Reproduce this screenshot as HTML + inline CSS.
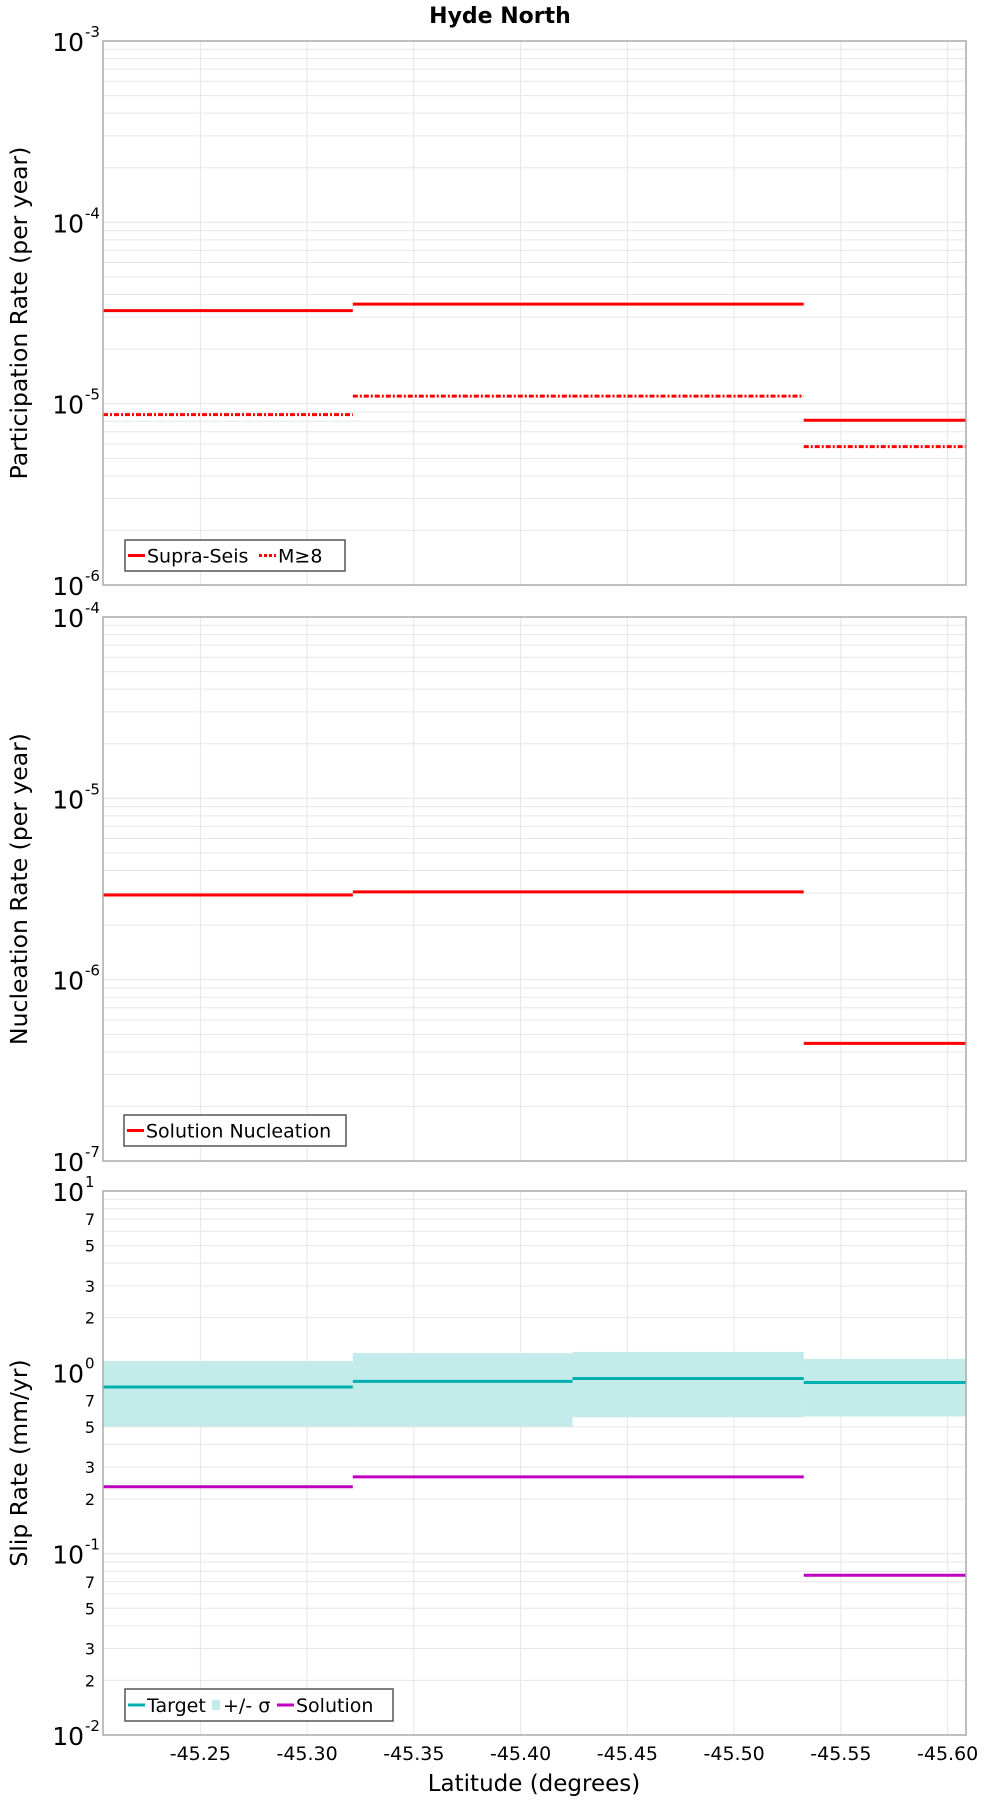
<!DOCTYPE html>
<html><head><meta charset="utf-8"><style>
html,body{margin:0;padding:0;background:#fff;}
svg{display:block;font-family:"DejaVu Sans","Liberation Sans",sans-serif;}
</style></head><body>
<svg id="c" width="1000" height="1800" viewBox="0 0 1000 1800" xmlns="http://www.w3.org/2000/svg">
<text x="500" y="23" text-anchor="middle" font-size="22" font-weight="bold">Hyde North</text>
</svg>
<script>
// Data
const segEdges = [-45.2044, -45.3214, -45.4243, -45.5326, -45.6086];
const xTicks = [-45.25, -45.30, -45.35, -45.40, -45.45, -45.50, -45.55, -45.60];
const xTickLabels = ["-45.25","-45.30","-45.35","-45.40","-45.45","-45.50","-45.55","-45.60"];
const supraSeis = [3.26e-5, 3.54e-5, 3.54e-5, 8.1e-6];
const m8 = [8.7e-6, 1.1e-5, 1.1e-5, 5.8e-6];
const nucleation = [2.93e-6, 3.05e-6, 3.05e-6, 4.45e-7];
const slipTarget = [0.83, 0.892, 0.925, 0.879];
const slipUpper = [1.156, 1.276, 1.296, 1.186];
const slipLower = [0.502, 0.502, 0.565, 0.571];
const slipSolution = [0.234, 0.265, 0.265, 0.076];
const p1Decades = [-6, -5, -4, -3];
const p2Decades = [-7, -6, -5, -4];
const p3Decades = [-2, -1, 0, 1];
const p3MinorLabels = [2, 3, 5, 7];

const NS = "http://www.w3.org/2000/svg";
const svg = document.getElementById('c');
const L = 103, R = 966;
function xs(v){ return L + (v - segEdges[0]) / (segEdges[4] - segEdges[0]) * (R - L); }
function mk(tag, attrs, parent){
  const e = document.createElementNS(NS, tag);
  for (const k in attrs) e.setAttribute(k, attrs[k]);
  (parent || svg).appendChild(e);
  return e;
}
function panel(top, bottom, decades, title, name){
  const g = mk('g', {});
  
  
  const lo = decades[0], hi = decades[decades.length - 1];
  const ys = v => bottom - (Math.log10(v) - lo) / (hi - lo) * (bottom - top);
  for (let d = lo; d < hi; d++) {
    for (let m = 1; m < 10; m++) {
      const y = ys(m * Math.pow(10, d));
      const ln = mk('line', {x1: L, x2: R, y1: y, y2: y, stroke: '#e6e6e6', 'stroke-width': 1}, g);
      
      
    }
  }
  xTicks.forEach(t => {
    const x = xs(t);
    const ln = mk('line', {x1: x, x2: x, y1: top, y2: bottom, stroke: '#e6e6e6', 'stroke-width': 1}, g);
    
    
  });
  decades.forEach(d => {
    const y = ys(Math.pow(10, d));
    const t = mk('text', {x: 84, y: y + 10, 'text-anchor': 'end', 'font-size': 25}, g);
    t.textContent = '10';
    
    
    const e = mk('text', {x: 85, y: y - 4, 'font-size': 15}, g);
    e.textContent = String(d);
    
    
  });
  const yt = mk('text', {x: 0, y: 0, 'text-anchor': 'middle', 'font-size': 23.5, transform: `translate(27 ${(top+bottom)/2}) rotate(-90)`}, g);
  yt.textContent = title;
  
  
  return {g, ys, top, bottom};
}
function frame(p){
  const r = mk('rect', {x: L, y: p.top, width: R - L, height: p.bottom - p.top, fill: 'none', stroke: '#aaaaaa', 'stroke-width': 1.5}, p.g);
  
  
}
function steps(p, vals, color, dash, name){
  vals.forEach((v, i) => {
    const y = p.ys(v);
    const a = {x1: xs(segEdges[i]), x2: xs(segEdges[i+1]), y1: y, y2: y, stroke: color, 'stroke-width': 3};
    if (dash) a['stroke-dasharray'] = dash;
    const ln = mk('line', a, p.g);
    
    
  });
}
function legend(p, x, y, w, h, items){
  const g = mk('g', {}, p.g);
  
  
  mk('rect', {x, y, width: w, height: h, fill: '#fff', stroke: '#555', 'stroke-width': 1.5}, g);
  let cx = x + 3;
  items.forEach(it => {
    if (it.box) {
      mk('rect', {x: cx + 1, y: y + h/2 - 5, width: 8, height: 10, fill: it.color}, g);
      cx += 12;
    } else {
      const a = {x1: cx, x2: cx + 17, y1: y + h/2, y2: y + h/2, stroke: it.color, 'stroke-width': 3};
      if (it.dash) a['stroke-dasharray'] = it.dash;
      mk('line', a, g);
      cx += 19;
    }
    const t = mk('text', {x: cx, y: y + h/2 + 7, 'font-size': 19}, g);
    t.textContent = it.label;
    
    
    cx += it.w;
  });
}

// Panel 1
const p1 = panel(41, 585, p1Decades, 'Participation Rate (per year)', 'participation-panel');
steps(p1, supraSeis, '#ff0000', null, 'supra-seis');
steps(p1, m8, '#ff0000', '5 2 2 2', 'm8');
frame(p1);
legend(p1, 125, 540, 220, 31, [{label:'Supra-Seis', color:'#ff0000', w:112},{label:'M≥8', color:'#ff0000', dash:'3 2', w:42}]);

// Panel 2
const p2 = panel(617, 1161, p2Decades, 'Nucleation Rate (per year)', 'nucleation-panel');
steps(p2, nucleation, '#ff0000', null, 'nucleation');
frame(p2);
legend(p2, 124, 1115, 222, 31, [{label:'Solution Nucleation', color:'#ff0000', w:190}]);

// Panel 3
const p3 = panel(1191, 1735, p3Decades, 'Slip Rate (mm/yr)', 'slip-rate-panel');
for (let d = p3Decades[0]; d < p3Decades[p3Decades.length-1]; d++) {
  p3MinorLabels.forEach(m => {
    const t = mk('text', {x: 95, y: p3.ys(m * Math.pow(10, d)) + 6, 'text-anchor': 'end', 'font-size': 16}, p3.g);
    t.textContent = String(m);
    
    
  });
}
slipUpper.forEach((u, i) => {
  const y1 = p3.ys(u), y2 = p3.ys(slipLower[i]);
  const r = mk('rect', {x: xs(segEdges[i]), y: y1, width: xs(segEdges[i+1]) - xs(segEdges[i]), height: y2 - y1, fill: '#c2ebea'}, p3.g);
  
  
});
steps(p3, slipTarget, '#00b0b0', null, 'target');
steps(p3, slipSolution, '#c000c0', null, 'solution');
frame(p3);
legend(p3, 125, 1689, 268, 32, [{label:'Target', color:'#00b0b0', w:64},{label:'+/- σ', color:'#c2ebea', box:true, w:54},{label:'Solution', color:'#c000c0', w:80}]);

// X axis
xTicks.forEach((t, i) => {
  const e = mk('text', {x: xs(t), y: 1760, 'text-anchor': 'middle', 'font-size': 19});
  e.textContent = xTickLabels[i];
  
  
});
const xt = mk('text', {x: 534, y: 1791, 'text-anchor': 'middle', 'font-size': 23});
xt.textContent = 'Latitude (degrees)';


</script>
</body></html>
